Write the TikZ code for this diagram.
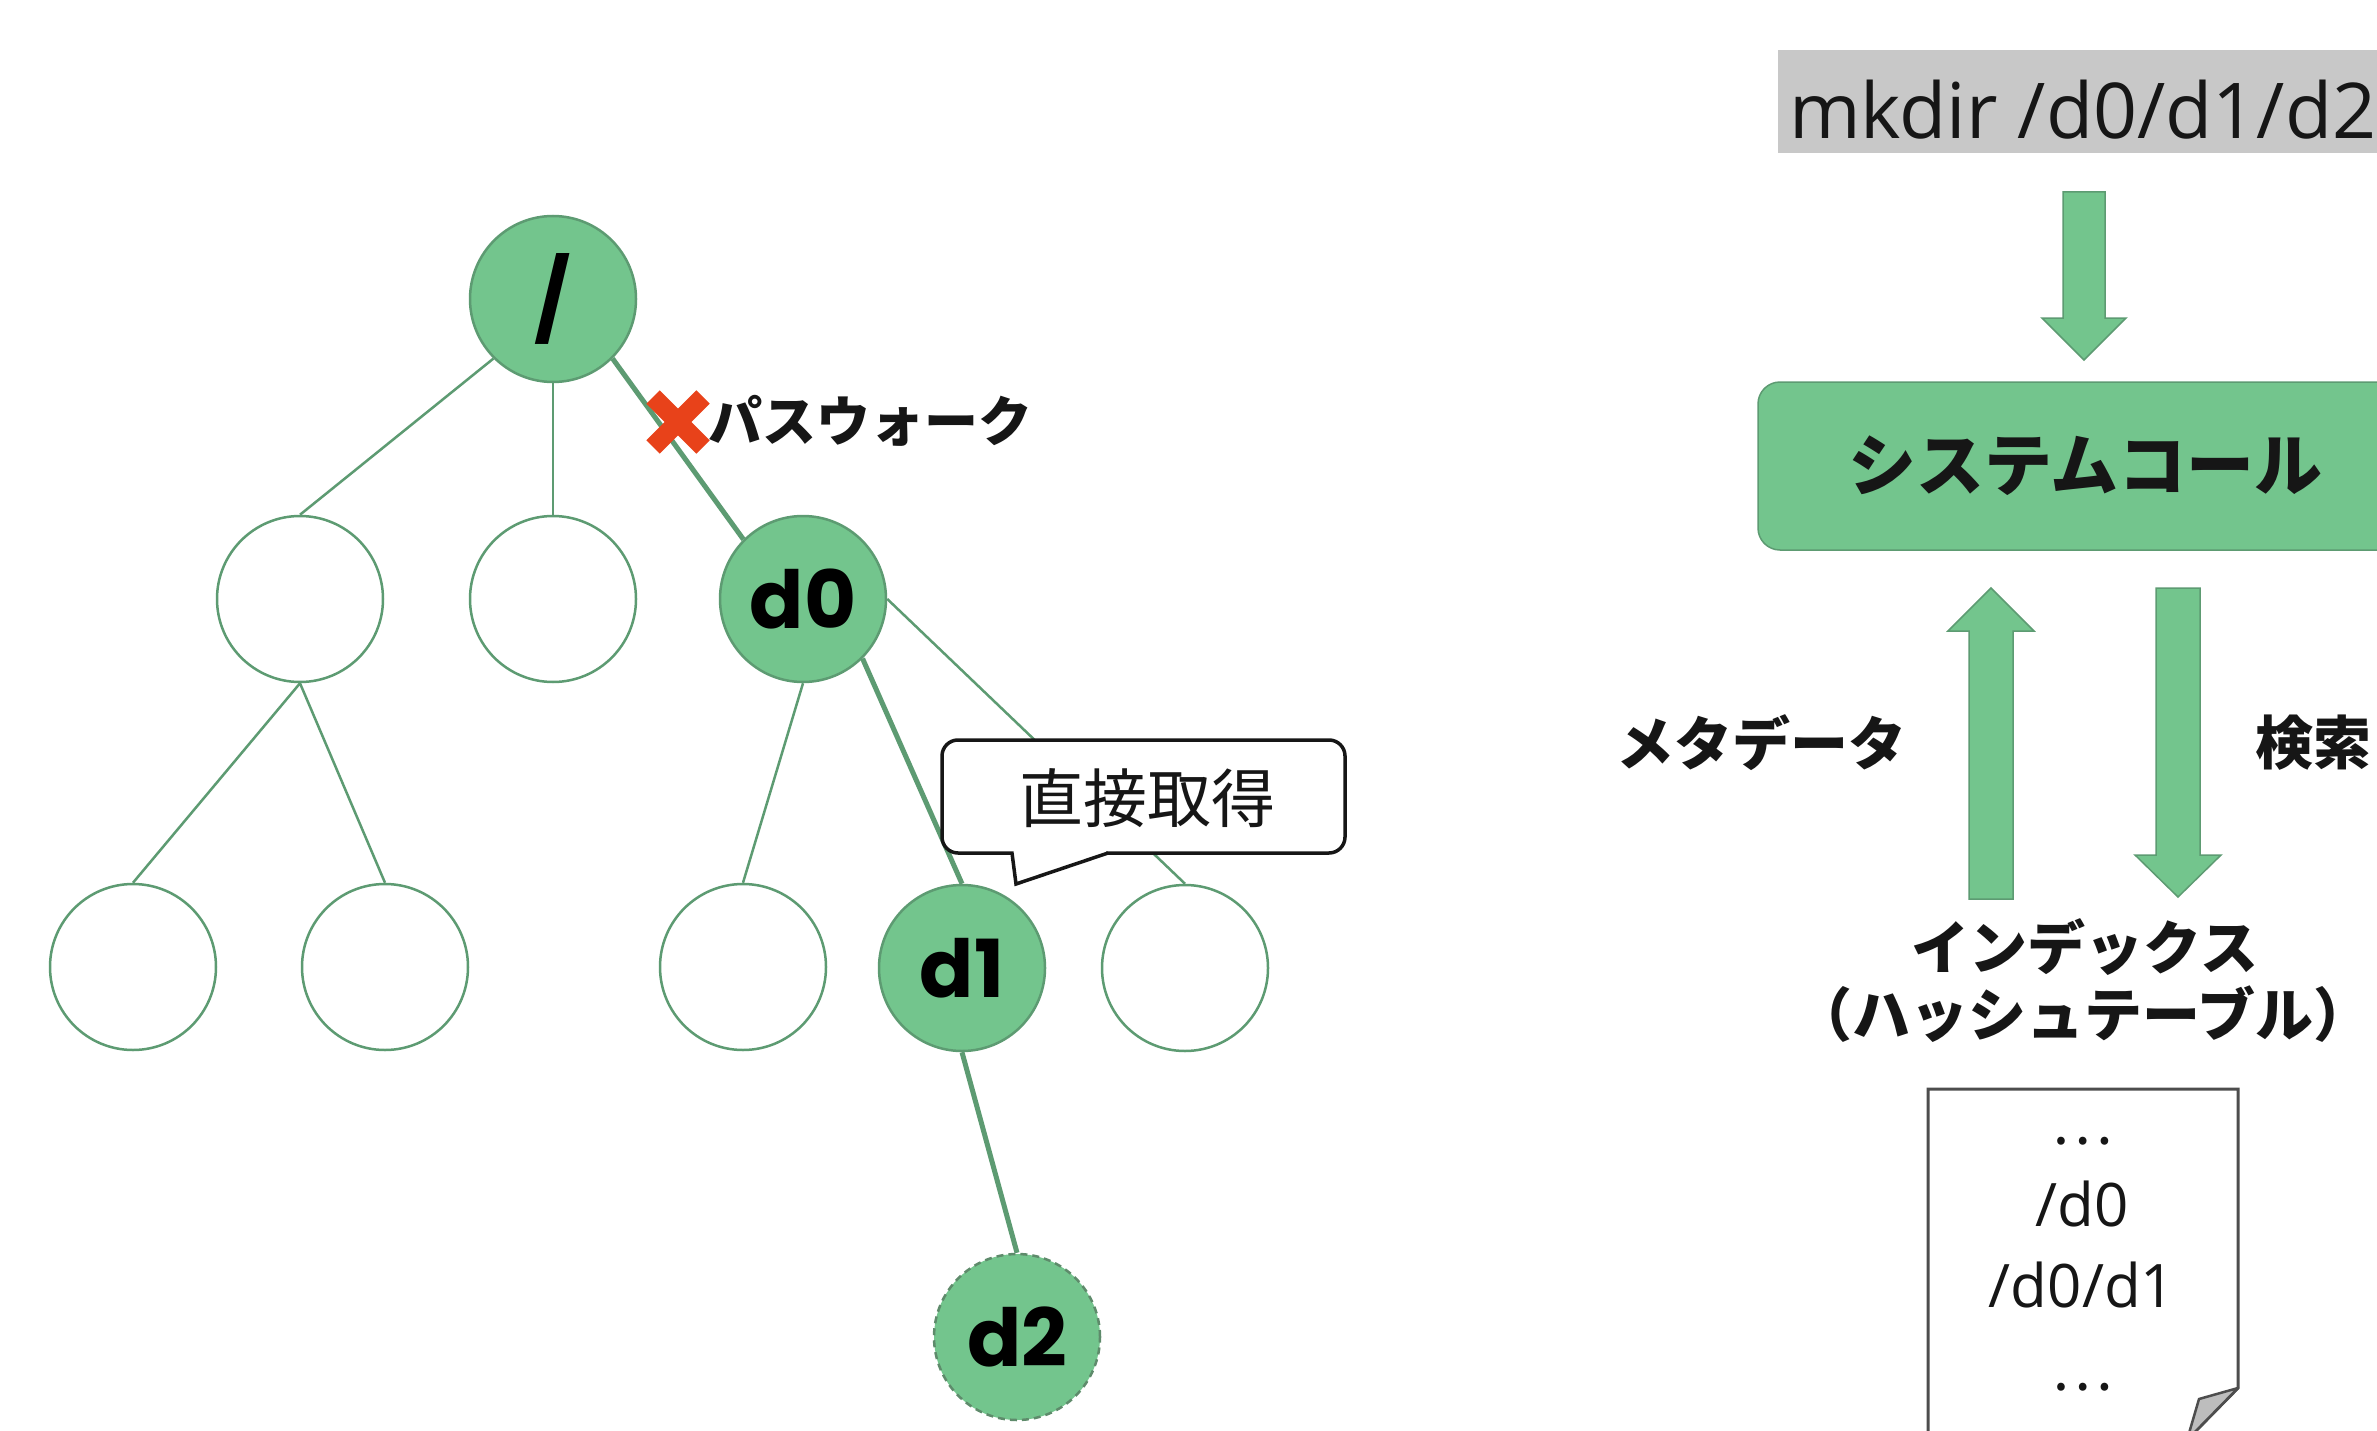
\documentclass[tikz,border=0pt]{standalone}
\usepackage{fontspec}
\setmainfont{Open Sans}
\newfontfamily\jp{Noto Sans CJK JP}
\newfontfamily\pop{Poppins}
\usetikzlibrary{backgrounds}
\definecolor{ngreen}{HTML}{73C58D}
\definecolor{egreen}{HTML}{5D9B72}
\definecolor{dgreen}{HTML}{5E8B6B}
\definecolor{xred}{HTML}{E8421A}
\definecolor{cmdgray}{HTML}{C8C8C8}
\definecolor{docgray}{HTML}{4D4D4D}
\definecolor{foldgray}{HTML}{BDBDBD}
\definecolor{ink}{HTML}{161616}
\begin{document}
\begin{tikzpicture}[x=1pt,y=-1pt,
  full/.style={circle, minimum size=166pt, inner sep=0pt, fill=ngreen, draw=egreen, line width=2.5pt,
    font=\pop\bfseries\fontsize{80}{80}\selectfont, text=black},
  empty/.style={circle, minimum size=166pt, inner sep=0pt, fill=white, draw=egreen, line width=2.5pt},
  edge/.style={egreen, line width=2.5pt},
  walkedge/.style={egreen, line width=5pt},
  blockarrow/.style={fill=ngreen, draw=egreen, line width=1.5pt, line join=miter},
  jplabel/.style={font=\jp\bfseries\fontsize{58}{58}\selectfont, text=ink, inner sep=0pt},
  calloutline/.style={draw=ink, line width=3.5pt},
  docline/.style={draw=docgray, line width=3pt, line join=miter},
  plain/.style={font=\fontsize{60}{60}\selectfont, text=ink, inner sep=0pt, anchor=base}
]
\useasboundingbox (0,0) rectangle (2377,1431);

% ---------------- tree ----------------
\node[full] (root) at (553,299) {/};
\node[empty] (l1a) at (300,599) {};
\node[empty] (l1b) at (553,599) {};
\node[full] (d0) at (803,599) {d0};
\node[empty] (l2a) at (133,967) {};
\node[empty] (l2b) at (385,967) {};
\node[empty] (l2c) at (743,967) {};
\node[full] (d1) at (962,968) {d1};
\node[empty] (l2e) at (1185,968) {};
\node[full, draw=dgreen, dash pattern=on 7pt off 5pt] (d2) at (1017,1337) {d2};

\begin{pgfonlayer}{background}
  \fill[white] (0,0) rectangle (2377,1431);
  \draw[edge] (root.south west) -- (l1a.north);
  \draw[edge] (root.south) -- (l1b.north);
  \draw[walkedge] (root.south east) -- (d0.north west);
  \draw[edge] (l1a.south) -- (l2a.north);
  \draw[edge] (l1a.south) -- (l2b.north);
  \draw[edge] (d0.south) -- (l2c.north);
  \draw[walkedge] (d0.south east) -- (d1.north);
  \draw[edge] (d0.east) -- (l2e.north);
  \draw[walkedge] (d1.south) -- (d2.north);
\end{pgfonlayer}

% red cross and path walk label
\draw[xred, line width=19pt] (653,397) -- (703,447);
\draw[xred, line width=19pt] (653,447) -- (703,397);
\node[jplabel, font=\jp\bfseries\fontsize{54}{54}\selectfont, anchor=west] (walk) at (708,421) {パスウォーク};

% callout
\draw[calloutline, fill=white, rounded corners=16pt] (942,740) rectangle (1345,853);
\fill[white] (1013.5,849) -- (1106,849) -- (1106,853) -- (1017,882) -- (1013.5,853) -- cycle;
\draw[calloutline, line join=miter] (1012,853) -- (1016,884) -- (1108,853);
\node[inner sep=0pt, font=\jp\fontsize{64}{64}\selectfont, text=ink] (callout) at (1147,798) {直接取得};

% ---------------- right side ----------------
\fill[cmdgray] (1778,50) rectangle (2420,153);
\node[anchor=base west, inner sep=0pt, font=\fontsize{77}{77}\selectfont, text=ink] (cmd) at (1789,139) {mkdir /d0/d1/d2};

\draw[blockarrow] (2063,192) -- (2105,192) -- (2105,318) -- (2126,318) -- (2084,360) -- (2042,318) -- (2063,318) -- cycle;

\draw[fill=ngreen, draw=egreen, line width=1.5pt, rounded corners=22pt] (1758,382) rectangle (2440,550);
\node[jplabel, font=\jp\bfseries\fontsize{68}{68}\selectfont] (sys) at (2085,466) {システムコール};

\draw[blockarrow] (1969,899) -- (2013,899) -- (2013,631) -- (2034,631) -- (1991,588) -- (1948,631) -- (1969,631) -- cycle;
\draw[blockarrow] (2156,588) -- (2200,588) -- (2200,855) -- (2221,855) -- (2178,897) -- (2135,855) -- (2156,855) -- cycle;

\node[jplabel] (meta) at (1761,743) {メタデータ};
\node[jplabel] (search) at (2313,743) {検索};
\node[jplabel] (idx) at (2085,947) {インデックス};
\node[jplabel] (hash) at (2083,1014) {（ハッシュテーブル）};

% index document
\draw[docline, fill=white] (1928,1445) -- (1928,1089) -- (2238,1089) -- (2238,1388) -- (2185,1442);
\filldraw[fill=foldgray, draw=docgray, line width=2.5pt, line join=round] (2238,1388) -- (2199,1399) -- (2187,1440) -- cycle;
\node[plain, font=\jp\fontsize{58}{58}\selectfont] (e1) at (2082,1144) {…};
\node[plain] (p1) at (2082,1226) {/d0};
\node[plain] (p2) at (2082,1307) {/d0/d1};
\node[plain, font=\jp\fontsize{58}{58}\selectfont] (e2) at (2082,1390) {…};
\end{tikzpicture}
\end{document}
